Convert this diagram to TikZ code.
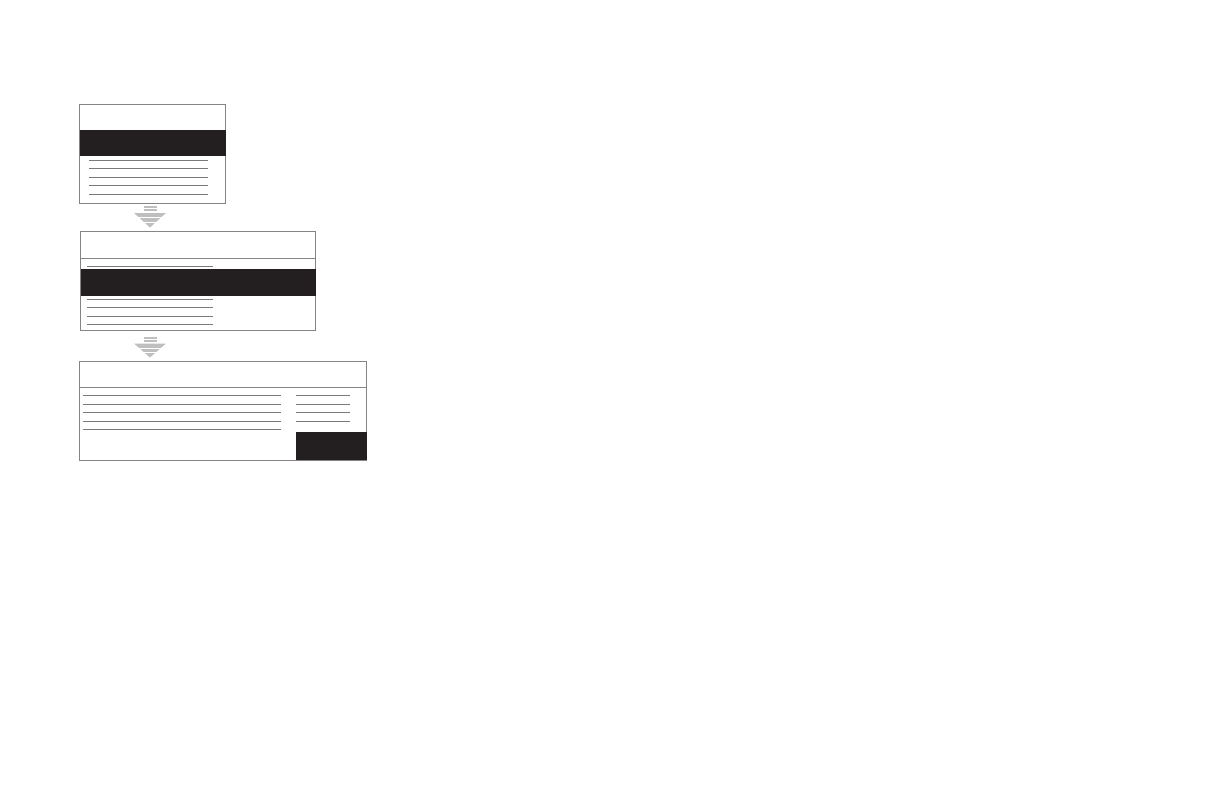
\documentclass[tikz,border=0pt]{standalone}
\usepackage{tikz}

\definecolor{bandgray}{HTML}{231F20}

\tikzset{
  screen/.style={draw=black!48, line width=0.8pt, anchor=north west, inner sep=0pt, outer sep=0pt},
  rowline/.style={draw=black!52, line width=0.9pt},
  band/.style={fill=bandgray},
  icon/.style={fill=black!25},
  stripe/.style={draw=white, line width=0.6pt}
}

\begin{document}
\begin{tikzpicture}[x=1pt, y=-1pt]
		\useasboundingbox (0,0) rectangle (1224,792);
		
		% first screen
		\node[screen, minimum width=146pt, minimum height=99pt] (scr1) at (79.5,104.3) {};
		\fill[band] (79.5,130) rectangle (225.5,156);
		\draw[rowline] (89,160.3) -- (208,160.3);
		\draw[rowline] (89,168.3) -- (208,168.3);
		\draw[rowline] (89,177) -- (208,177);
		\draw[rowline] (89,185.3) -- (208,185.3);
		\draw[rowline] (89,194.5) -- (208,194.5);
		
		% second screen
		\node[screen, minimum width=235pt, minimum height=99pt] (scr2) at (80.7,231.2) {};
		\draw[screen] (80.7,258.3) -- (315.7,258.3);
		\draw[rowline] (87,266.3) -- (213.3,266.3);
		\fill[band] (80.7,269.3) rectangle (315.7,295.7);
		\draw[rowline] (87,299) -- (213.3,299);
		\draw[rowline] (87,307.2) -- (213.3,307.2);
		\draw[rowline] (87,316) -- (213.3,316);
		\draw[rowline] (87,324) -- (213.3,324);
		
		% third screen
		\node[screen, minimum width=287.4pt, minimum height=99pt] (scr3) at (79.3,361.3) {};
		\draw[screen] (79.3,387.3) -- (366.7,387.3);
		\draw[rowline] (82.7,395.3) -- (281.3,395.3);
		\draw[rowline] (82.7,404.3) -- (281.3,404.3);
		\draw[rowline] (82.7,412.3) -- (281.3,412.3);
		\draw[rowline] (82.7,421.3) -- (281.3,421.3);
		\draw[rowline] (82.7,429.3) -- (281.3,429.3);
		\draw[rowline] (296,395.3) -- (350,395.3);
		\draw[rowline] (296,404.3) -- (350,404.3);
		\draw[rowline] (296,412.3) -- (350,412.3);
		\draw[rowline] (296,421.3) -- (350,421.3);
		\fill[band] (296,432) rectangle (366.7,460.3);
		
		% arrow between first and second
		\fill[icon] (144,206) rectangle (157,207.8);
		\fill[icon] (144,209.3) rectangle (157,211.1);
		\fill[icon] (134,213) -- (166,213) -- (150,227.5) -- cycle;
		\draw[stripe] (134,217.5) -- (166,217.5);
		\draw[stripe] (134,222) -- (166,222);
		
		% arrow between second and third
		\fill[icon] (144,337) rectangle (157,338.8);
		\fill[icon] (144,340.3) rectangle (157,342.1);
		\fill[icon] (134,343.5) -- (166,343.5) -- (150,357.5) -- cycle;
		\draw[stripe] (134,348) -- (166,348);
		\draw[stripe] (134,352.5) -- (166,352.5);
		
\end{tikzpicture}
\end{document}
